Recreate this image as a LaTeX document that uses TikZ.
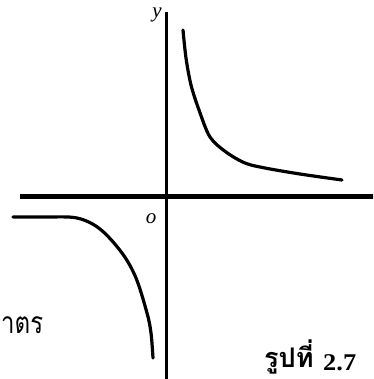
\documentclass[tikz,border=0pt]{standalone}
\usepackage{fontspec}
\setmainfont{Liberation Serif}
\newfontfamily\thaifont[Script=Thai]{Loma}
\begin{document}
\begin{tikzpicture}[x=1pt,y=-1pt,
  axis/.style={line width=3pt},
  haxis/.style={line width=5pt},
  curve/.style={line width=3.2pt,line cap=round,line join=round},
  lbl/.style={font=\fontsize{21}{21}\selectfont\itshape,inner sep=0pt}]
\useasboundingbox (0,0) rectangle (373,379);
\begin{scope}
\clip (0,0) rectangle (373,379);
% axes
\coordinate (xl) at (20,196);
\coordinate (xr) at (380,196);
\coordinate (yt) at (166.5,12);
\coordinate (yb) at (166.5,385);
\draw[haxis] (xl) -- (xr);
\draw[axis] (yt) -- (yb);
% labels
\node[lbl] (ylab) at (157,15) {y};
\node[lbl] (olab) at (151,219) {o};
% curves
\draw[curve] plot[smooth,tension=0.55] coordinates {(183,30) (186,58) (191,85) (199,110) (210,137) (226,152) (245,163) (265,168) (300,174) (342,180)};
\draw[curve] plot[smooth,tension=0.55] coordinates {(13,217) (45,217) (77,218) (100,229) (122,253) (136,278) (147,313) (151,333) (153,358)};
% texts
\node[anchor=base west,inner sep=0pt] (thai1) at (1,333) {\scalebox{0.8}[1]{\thaifont\fontsize{30}{30}\selectfont าตร}};
\node[anchor=base west,inner sep=0pt] (fig) at (264,367) {\thaifont\bfseries\fontsize{27}{30}\selectfont รูปที่};
\node[anchor=base west,inner sep=0pt] (num) at (323,370) {\scalebox{1.1}[1]{\bfseries\fontsize{24}{24}\selectfont 2.7}};
\end{scope}
\end{tikzpicture}
\end{document}
